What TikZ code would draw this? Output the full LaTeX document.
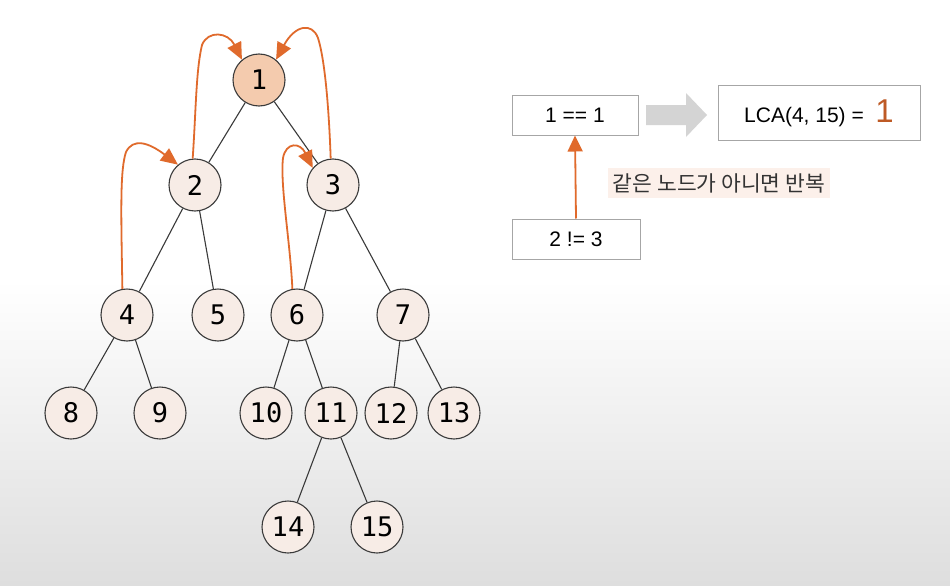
\documentclass[tikz,border=0pt]{standalone}
\usepackage{fontspec}
\setmainfont{Liberation Sans}
\newfontfamily\numfont{DejaVu Sans Mono}
\newfontfamily\krfont{Noto Sans CJK KR}
\usetikzlibrary{arrows.meta}
\definecolor{org}{HTML}{E06A2C}
\definecolor{nodefill}{HTML}{F7ECE6}
\definecolor{rootfill}{HTML}{F4CBAE}
\definecolor{edge}{HTML}{3A3A3A}
\tikzset{
  tn/.style={circle,draw=edge,line width=1.1pt,fill=nodefill,minimum size=52pt,inner sep=0pt,font=\numfont\fontsize{27}{27}\selectfont},
  te/.style={draw=edge,line width=1.1pt},
  oa/.style={draw=org,line width=1.8pt,-{Triangle[length=17pt,width=15pt]}},
  box/.style={draw=gray!70,line width=1pt,fill=white,inner sep=0pt,font=\fontsize{21}{21}\selectfont}
}
\begin{document}
\begin{tikzpicture}[x=1pt,y=-1pt]
\useasboundingbox (0,0) rectangle (950,586);
\fill[white] (0,0) rectangle (950,280);
\shade[top color=white,bottom color=black!13] (0,280) rectangle (950,586);
% tree nodes
\node[tn,fill=rootfill] (n1) at (259,80) {1};
\node[tn] (n2) at (195,185) {2};
\node[tn] (n3) at (333,185) {3};
\node[tn] (n4) at (127,315) {4};
\node[tn] (n5) at (218,315) {5};
\node[tn] (n6) at (297,315) {6};
\node[tn] (n7) at (403,315) {7};
\node[tn] (n8) at (71,413) {8};
\node[tn] (n9) at (160,413) {9};
\node[tn] (n10) at (266,413) {10};
\node[tn] (n11) at (331,413) {11};
\node[tn] (n12) at (391,413) {12};
\node[tn] (n13) at (454,413) {13};
\node[tn] (n14) at (288,527) {14};
\node[tn] (n15) at (377,527) {15};
% edges
\draw[te] (n1) -- (n2);
\draw[te] (n1) -- (n3);
\draw[te] (n2) -- (n4);
\draw[te] (n2) -- (n5);
\draw[te] (n3) -- (n6);
\draw[te] (n3) -- (n7);
\draw[te] (n4) -- (n8);
\draw[te] (n4) -- (n9);
\draw[te] (n6) -- (n10);
\draw[te] (n6) -- (n11);
\draw[te] (n7) -- (n12);
\draw[te] (n7) -- (n13);
\draw[te] (n11) -- (n14);
\draw[te] (n11) -- (n15);
% orange climbing arrows
\draw[oa] (n4.100) .. controls (121,210) and (120,170) .. (126,152) .. controls (133,138) and (148,142) .. (n2.130);
\draw[oa] (n2.95) .. controls (196,110) and (196,70) .. (202,45) .. controls (208,30) and (228,32) .. (n1.130);
\draw[oa] (n3.95) .. controls (329,110) and (325,60) .. (318,38) .. controls (312,22) and (295,25) .. (n1.50);
\draw[oa] (n6.100) .. controls (290,240) and (280,185) .. (283,158) .. controls (286,142) and (300,142) .. (n3.140);
% right side
\node[box,minimum width=126pt,minimum height=40pt] (eq) at (575,115) {1 == 1};
\node[box,minimum width=202pt,minimum height=55pt] (lca) at (819,113) {LCA(4, 15) =\ \ {\color{org!85!black}\fontsize{33}{33}\selectfont 1}};
\node[box,minimum width=128pt,minimum height=40pt] (ne) at (576,239) {2 != 3};
\coordinate (gs) at (646,115);
\fill[black!17] (gs) ++(0,-10) -- ++(40,0) -- ++(0,-12) -- (707,115) -- (686,137) -- ++(0,-12) -- ++(-40,0) -- cycle;
\draw[draw=org,line width=1.8pt,-{Triangle[length=16pt,width=15pt]}] (ne.north) -- (eq.south);
\node[fill=org!10,inner sep=5pt,font=\krfont\fontsize{21.5}{21.5}\selectfont,text=black!80] (lbl) at (719,183) {같은 노드가 아니면 반복};
\end{tikzpicture}
\end{document}
